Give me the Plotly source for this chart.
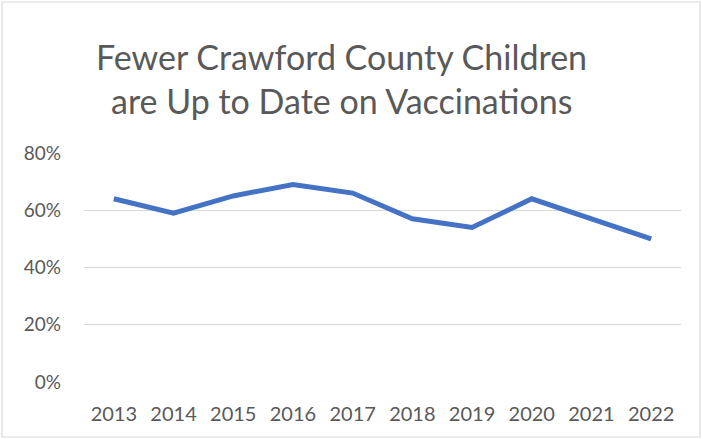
import plotly.graph_objects as go

years = ["2013", "2014", "2015", "2016", "2017", "2018", "2019", "2020", "2021", "2022"]
rates = [0.64, 0.59, 0.65, 0.69, 0.66, 0.57, 0.54, 0.64, 0.57, 0.50]
y_ticks = [0, 0.2, 0.4, 0.6, 0.8]
y_tick_labels = ["0%", "20%", "40%", "60%", "80%"]
title_lines = ["Fewer Crawford County Children", "are Up to Date on Vaccinations"]

H_PLOT = 229.0
W_PLOT = 597.0

fig = go.Figure()
fig.add_trace(go.Scatter(
    x=years, y=rates, mode="lines",
    line=dict(color="#4472C4", width=5, shape="linear"),
    hoverinfo="skip",
))

annotations = []
for line, ypix in zip(title_lines, [57, 101]):
    annotations.append(dict(
        text=line, xref="paper", yref="paper",
        x=(341 - 84) / W_PLOT, y=1 + (153 - ypix) / H_PLOT,
        xanchor="center", yanchor="middle", showarrow=False,
        font=dict(family="Lato, Open Sans, sans-serif", size=34, color="#595959"),
    ))

fig.update_layout(
    width=702, height=439,
    margin=dict(l=84, r=21, t=153, b=57, autoexpand=False),
    paper_bgcolor="white", plot_bgcolor="white",
    showlegend=False,
    font=dict(family="Lato, Open Sans, sans-serif", color="#595959", size=18),
    annotations=annotations,
    xaxis=dict(type="category", range=[-0.5, 9.5], showgrid=False, zeroline=False,
               showline=False, ticks="", tickfont=dict(size=20, color="#595959"),
               ticklabelstandoff=18, automargin=False),
    yaxis=dict(range=[0, 0.8], tickvals=y_ticks, ticktext=y_tick_labels,
               showgrid=True, gridcolor="#D9D9D9", gridwidth=1.3, zeroline=False,
               showline=False, ticks="", tickfont=dict(size=19, color="#595959"),
               ticklabelstandoff=22, automargin=False),
    shapes=[dict(type="rect", xref="paper", yref="paper",
                 x0=-82/W_PLOT, x1=1 + 19/W_PLOT, y0=-55/H_PLOT, y1=1 + 151/H_PLOT,
                 line=dict(color="#D9D9D9", width=1.2), fillcolor="rgba(0,0,0,0)")],
)

fig.write_html("out.html", config={"displayModeBar": False},
               post_script="document.body.style.margin='0px';")
